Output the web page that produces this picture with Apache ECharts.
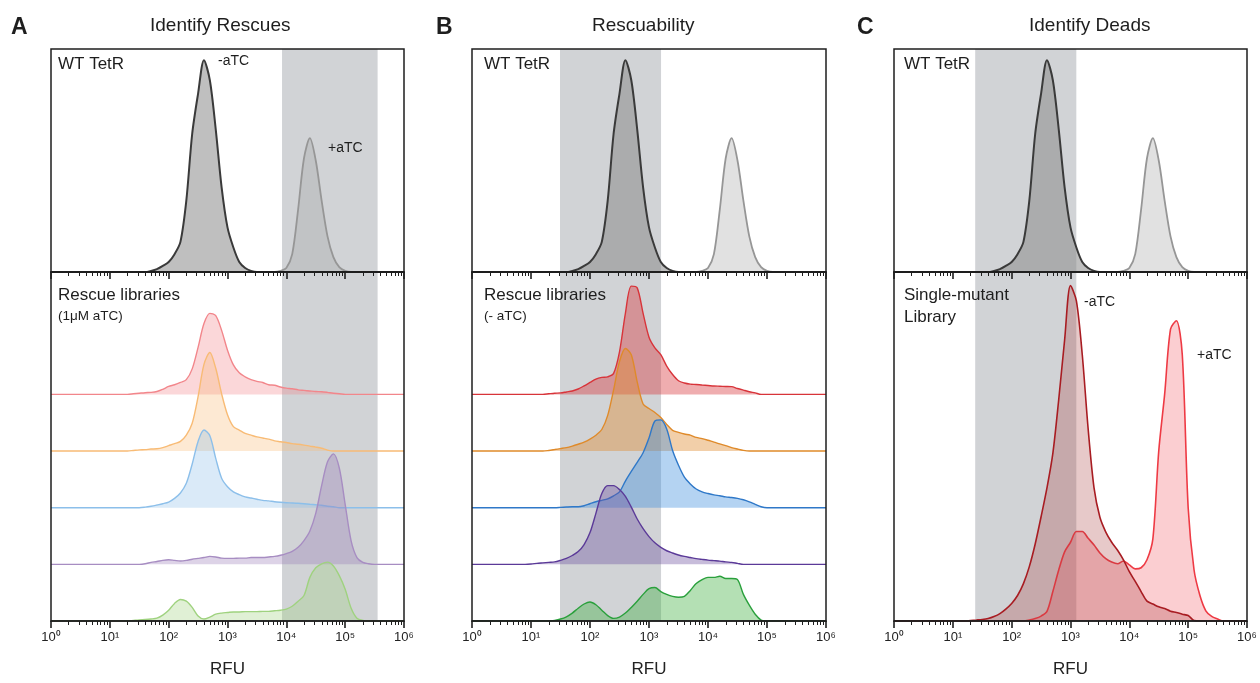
<!DOCTYPE html>
<html><head><meta charset="utf-8">
<script src="https://cdn.jsdelivr.net/npm/echarts@6/dist/echarts.min.js"></script>
<style>html,body{margin:0;padding:0;background:#fff;}#c{width:1260px;height:683px;}</style>
</head><body><div id="c"></div>
<script>
// log10 bin centres (decades) shared by every histogram
const binExp = [0,0.1,0.2,0.3,0.4,0.5,0.6,0.7,0.8,0.9,
1,1.1,1.2,1.3,1.4,1.5,1.6,1.7,1.8,1.9,
2,2.1,2.2,2.3,2.4,2.5,2.6,2.7,2.8,2.9,
3,3.1,3.2,3.3,3.4,3.5,3.6,3.7,3.8,3.9,
4,4.1,4.2,4.3,4.4,4.5,4.6,4.7,4.8,4.9,
5,5.1,5.2,5.3,5.4,5.5,5.6,5.7,5.8,5.9,6];
const tickExp = [0,1,2,3,4,5,6];
const tickSup = ['⁰','¹','²','³','⁴','⁵','⁶'];
const minorMult = [2,3,4,5,6,7,8,9];
const minorDecades = [1,10,100,1000,10000,100000];

// WT TetR (top boxes, same in A/B/C)
const wtMinus = [0,0,0,0,0,0,0,0,0,0, 0,0,0,0,0,0,0,0.5,1.3,2.7, 4.5,8,13.5,32,62,80,95,86,64,38, 20,11,4.5,1.8,0.5,0,0,0,0,0, 0,0,0,0,0,0,0,0,0,0, 0,0,0,0,0,0,0,0,0,0, 0];
const wtPlus  = [0,0,0,0,0,0,0,0,0,0, 0,0,0,0,0,0,0,0,0,0, 0,0,0,0,0,0,0,0,0,0, 0,0,0,0,0,0,0,0,0,0.5, 1.8,8,28,51,60,50,32,16,6.7,2.2, 0.5,0,0,0,0,0,0,0,0,0, 0];

// A: Rescue libraries (1uM aTC)
const aRed    = [0,0,0,0,0,0,0,0,0,0, 0,0,0,0,1,2,3,3.5,5,9, 14,17,21,26,45,83,125,143,139,113, 78,52,38,31,26,23,21,17,16,13, 11,10,8,7,6,5,4.7,3.5,2,1.2, 0,0,0,0,0,0,0,0,0,0, 0];
const aOrange = [0,0,0,0,0,0,0,0,0,0, 0,0,0,0,1,2,2.5,3.5,4,6, 9.5,13,17,28,49,96,153,174,146,101, 64,43,37,31,28,25,23,21,18,16.5, 15,13,12,10.5,8.7,7,5,1.7,0,0, 0,0,0,0,0,0,0,0,0,0, 0];
const aBlue   = [0,0,0,0,0,0,0,0,0,0, 0,0,0,0,0,0,1,2.6,4.7,7, 10,16.5,26,43,77,117,137,127,87,52, 37,28,23,19,17,15,13,12,10.5,9.5, 8.7,8.3,7.8,7,6,5.2,4.3,2.6,1.7,0, 0,0,0,0,0,0,0,0,0,0, 0];
const aPurple = [0,0,0,0,0,0,0,0,0,0, 0,0,0,0,0,0,1,3.5,5,7, 8,7,6,7,9,10.5,12,14,13,11, 10.5,10.5,11,11,12,12,12,13,14,16, 19,23,30,42,59,90,139,181,195,170, 106,42,12,3.5,1,0,0,0,0,0, 0];
const aGreen  = [0,0,0,0,0,0,0,0,0,0, 0,0,0,0,1,2,2.6,3.5,5,10.5, 19,31,38,35,24,9,3.5,7,12,14, 15,16,16,16.5,16.5,16.5,17,17,18,19, 21,26,35,45,77,94,101,104,97,80, 56,23,5,1,0,0,0,0,0,0, 0];

// B: Rescue libraries (- aTC)
const bRed    = [0,0,0,0,0,0,0,0,0,0, 0,0,0,1,2,2.6,4.3,6,9.5,15, 21,27,30,31,37,75,143,191,188,143, 101,82,70,50,35,24,20,18,17.4,16.5, 15.7,14.8,14.4,14,13.6,10.4,7.5,4.7,2.6,0, 0,0,0,0,0,0,0,0,0,0, 0];
const bOrange = [0,0,0,0,0,0,0,0,0,0, 0,0,0,1,2.6,4.3,6,8.7,12,15.6, 21,28,38,63,108,158,181,170,122,83, 75,68,59,47,36.5,33,30,28,24,22, 19,15.7,12.7,9.5,6,3.5,1.2,0,0,0, 0,0,0,0,0,0,0,0,0,0, 0];
const bBlue   = [0,0,0,0,0,0,0,0,0,0, 0,0,0,0,0,0.5,1.2,1.7,1.7,3.5, 7,10.4,13,15.6,21,28,47,64,80,97, 123,153,155,139,101,75,54,42,33,28, 25,22.6,21,19,18,16.5,14,10.4,6,1.7, 0,0,0,0,0,0,0,0,0,0, 0];
const bPurple = [0,0,0,0,0,0,0,0,0,0, 0.5,1.7,2.6,3.5,4.3,7,10.4,15.6,22.6,35, 56,90,125,139,139,132,120,101,80,63, 49,38,30,24,20,16.5,14,12,10,8.7, 7.5,6.6,5.7,4.3,3.5,1.7,0,0,0,0, 0,0,0,0,0,0,0,0,0,0, 0];
const bGreen  = [0,0,0,0,0,0,0,0,0,0, 0,0,0,0,1.2,3.5,7.5,14,22.6,30, 33.5,28.7,19,9.6,4.7,7,14,24,35,47, 57,59,52,47,43.5,42,43.5,54,66,73, 77,77,79,75,75,73,47,28,12,1.7, 0,0,0,0,0,0,0,0,0,0, 0];

// C: Single-mutant library
const cMinus  = [0,0,0,0,0,0,0,0,0,0, 0,0,0,0.9,1.7,2.6,4.3,7.8,13,21, 31,45,66,96,136,184,235,296,391,496, 592,565,470,339,235,183,157,139,125,108, 87,70,52,35,30,25,22,17.4,15,12, 9.6,0.9,0,0,0,0,0,0,0,0, 0];
const cPlus   = [0,0,0,0,0,0,0,0,0,0, 0,0,0,0,0,0,0,0,0,0, 0,0,0,1.7,4.3,8.7,17,52,90,122, 139,158,158,146,134,120,110,104,101,106, 99,92,94,108,145,300,400,515,530,470, 200,90,45,18,8,3.5,0,0,0,0, 0];

// gated (shaded) RFU windows
const bandA = [8450, 356000];
const bandB = [31, 1600];
const bandC = [24, 1256];

const ridgeOffsets = [400, 300, 200, 100, 0]; // red, orange, blue, purple, green

const FONT = '"Liberation Sans", Arial, sans-serif';
const BAND = '#d1d3d6';
const INK = '#1e1e1e';
const minorVals = [];
minorDecades.forEach(d => minorMult.forEach(m => minorVals.push(m * d)));

const panels = [
  {left: 51, width: 353, band: bandA},
  {left: 472, width: 354, band: bandB},
  {left: 894, width: 353, band: bandC}
];
const grids = [], xAxes = [], yAxes = [], series = [];
panels.forEach((p, i) => {
  grids.push({left: p.left, width: p.width, top: 49, height: 223, show: true, borderColor: INK, borderWidth: 1.5, z: 10, backgroundColor: 'transparent'});
  grids.push({left: p.left, width: p.width, top: 272, height: 354, show: true, borderColor: INK, borderWidth: 1.5, z: 10, backgroundColor: 'transparent'});
});
function xAx(g, labels) {
  return {type: 'log', logBase: 10, gridIndex: g, min: 1, max: 1e6, splitNumber: 6, z: 10, position: 'bottom',
    axisLine: {show: true, lineStyle: {color: INK, width: 1.6}},
    axisTick: {show: true, length: 7, lineStyle: {color: INK, width: 1.6}},
    minorTick: {show: false},
    splitLine: {show: false}, minorSplitLine: {show: false},
    axisLabel: {show: labels, margin: 10, fontSize: 13, color: '#222', fontFamily: FONT,
      formatter: v => { const e = Math.round(Math.log10(v)); return tickExp.indexOf(e) >= 0 ? '10' + tickSup[e] : ''; }},
    name: labels ? 'RFU' : '', nameLocation: 'middle', nameGap: 40,
    nameTextStyle: {fontSize: 17, color: '#222', fontFamily: FONT}
  };
}
function xMinor(g) {
  return {type: 'log', logBase: 10, gridIndex: g, min: 1, max: 1e6, z: 10, position: 'bottom', offset: 0,
    axisLine: {show: false},
    axisTick: {show: true, length: 4, customValues: minorVals, lineStyle: {color: INK, width: 1}},
    axisLabel: {show: false}, splitLine: {show: false}};
}
for (let g = 0; g < 6; g++) {
  const bottom = g % 2 === 1;
  xAxes.push(xAx(g, bottom));
  yAxes.push({type: 'value', gridIndex: g, min: 0, max: bottom ? 616 : 100, show: false});
}
for (let g = 0; g < 6; g++) xAxes.push(xMinor(g));

function band(g, b) {
  return {type: 'line', xAxisIndex: g, yAxisIndex: g, data: [], z: 1, silent: true,
    markArea: {silent: true, itemStyle: {color: BAND}, data: [[{xAxis: b[0]}, {xAxis: b[1]}]]}};
}
function hist(g, vals, offset, line, fill, z, w) {
  return {type: 'line', xAxisIndex: g, yAxisIndex: g, silent: true, z: z || 2,
    data: binExp.map((e, i) => [Math.pow(10, e), offset + vals[i]]),
    showSymbol: false, symbol: 'none', smooth: 0.3,
    lineStyle: {color: line, width: w || 1.4},
    areaStyle: {color: fill, origin: offset}};
}
panels.forEach((p, i) => {
  series.push(band(2 * i, p.band));
  series.push(band(2 * i + 1, p.band));
  series.push(hist(2 * i, wtPlus, 0, '#969696', 'rgba(160,160,160,0.45)', 2, 1.8));
  series.push(hist(2 * i, wtMinus, 0, '#3a3a3a', 'rgba(140,140,140,0.8)', 3, 2));
});
const aSets = [[aRed, '#f2868b', 'rgba(242,130,136,0.45)'], [aOrange, '#f8bb75', 'rgba(248,186,116,0.45)'],
  [aBlue, '#8cbfea', 'rgba(140,190,234,0.45)'], [aPurple, '#a78dc2', 'rgba(148,118,180,0.45)'],
  [aGreen, '#9fd27f', 'rgba(156,208,124,0.45)']];
aSets.forEach((s, k) => series.push(hist(1, s[0], ridgeOffsets[k], s[1], s[2], 2 + k)));
const bSets = [[bRed, '#d8343a', 'rgba(218,60,64,0.6)'], [bOrange, '#df8a2a', 'rgba(225,140,50,0.6)'],
  [bBlue, '#2f78c8', 'rgba(60,140,220,0.55)'], [bPurple, '#5b3a98', 'rgba(110,80,160,0.55)'],
  [bGreen, '#2aa03c', 'rgba(60,175,60,0.55)']];
bSets.forEach((s, k) => series.push(hist(3, s[0], ridgeOffsets[k], s[1], s[2], 2 + k)));
series.push(hist(5, cPlus, 0, '#ee3a44', 'rgba(240,80,90,0.4)', 2, 1.6));
series.push(hist(5, cMinus, 0, '#a81c22', 'rgba(170,60,60,0.4)', 3, 1.6));

function txt(t, x, y, size, bold) {
  return {type: 'text', left: x, top: y, z: 100, silent: true,
    style: {text: t, fontSize: size, fontFamily: FONT, fontWeight: bold ? 'bold' : 'normal', fill: '#1e1e1e'}};
}
const graphic = [
  txt('A', 11, 16, 23, true), txt('B', 436, 16, 23, true), txt('C', 857, 16, 23, true),
  txt('Identify Rescues', 150, 16, 19), txt('Rescuability', 592, 16, 19), txt('Identify Deads', 1029, 16, 19),
  txt('WT TetR', 58, 56, 17), txt('WT TetR', 484, 56, 17), txt('WT TetR', 904, 56, 17),
  txt('-aTC', 218, 54, 14), txt('+aTC', 328, 141, 14),
  txt('Rescue libraries', 58, 287, 17), txt('(1μM aTC)', 58, 309, 13.5),
  txt('Rescue libraries', 484, 287, 17), txt('(- aTC)', 484, 309, 13.5),
  txt('Single-mutant', 904, 287, 17), txt('Library', 904, 309, 17),
  txt('-aTC', 1084, 295, 14), txt('+aTC', 1197, 348, 14)
];

const chart = echarts.init(document.getElementById('c'), null, {renderer: 'canvas'});
chart.setOption({animation: false, backgroundColor: '#ffffff', textStyle: {fontFamily: FONT},
  grid: grids, xAxis: xAxes, yAxis: yAxes, series: series, graphic: graphic});
</script>
</body></html>
